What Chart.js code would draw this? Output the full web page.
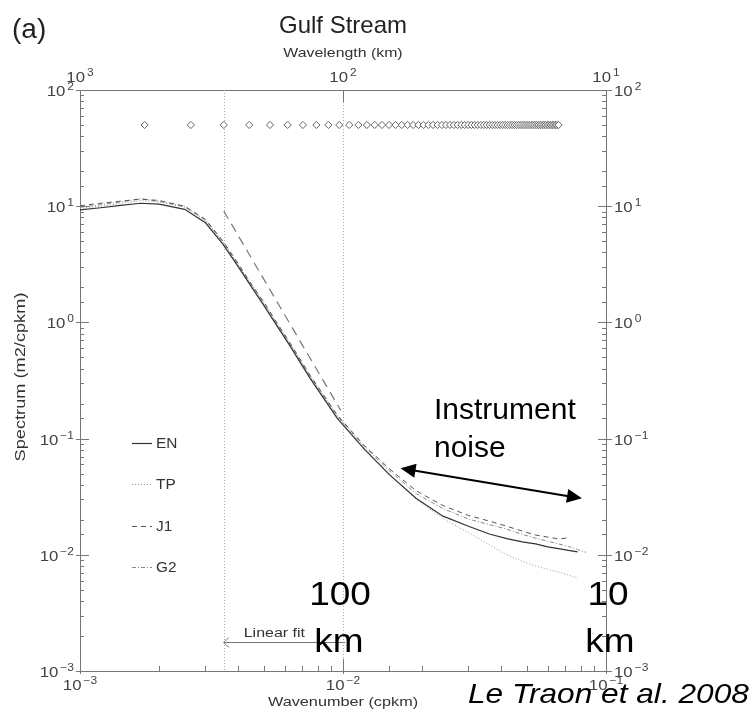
<!DOCTYPE html>
<html>
<head>
<meta charset="utf-8">
<title>Gulf Stream</title>
<script src="https://cdn.jsdelivr.net/npm/chart.js@4.4.1/dist/chart.umd.min.js"></script>
<style>
  html, body { margin: 0; padding: 0; background: #fff; }
  #wrap { width: 756px; height: 726px; }
</style>
</head>
<body>
<div id="wrap"><canvas id="spec" width="756" height="726"></canvas></div>
<script>
// wavenumber grid (cpkm) shared by the four spectra
const waveNum = [0.001, 0.0012, 0.0014, 0.0017, 0.002, 0.0025, 0.003, 0.0035, 0.004, 0.0045,
  0.005, 0.0055, 0.0062, 0.0075, 0.0095, 0.012, 0.015, 0.019, 0.024, 0.03,
  0.036, 0.042, 0.048, 0.054, 0.06, 0.066, 0.072, 0.078, 0.084];

// spectra (m2/cpkm), null where a mission has no estimate
const specEN = [9.3, 9.7, 10.1, 10.6, 10.4, 9.4, 7.2, 4.7, 3.0, 2.0,
  1.4, 1.0, 0.66, 0.33, 0.15, 0.082, 0.049, 0.0305, 0.0215, 0.0176,
  0.0151, 0.0138, 0.0129, 0.0124, 0.0117, 0.0113, 0.0109, 0.0106, null];
const specTP = [9.6, 10.0, 10.5, 11.2, 10.9, 9.8, 7.5, 4.9, 3.1, 2.05,
  1.45, 1.03, 0.68, 0.34, 0.155, 0.083, 0.05, 0.030, 0.0205, 0.0155,
  0.0122, 0.0100, 0.0088, 0.0080, 0.0075, 0.0071, 0.0067, 0.0063, null];
const specJ1 = [10.1, 10.6, 11.0, 11.5, 11.2, 10.0, 7.7, 5.0, 3.2, 2.1,
  1.5, 1.06, 0.70, 0.35, 0.16, 0.088, 0.055, 0.0355, 0.0265, 0.0218,
  0.0195, 0.0176, 0.0160, 0.0148, 0.0142, 0.0137, 0.0140, null, null];
const specG2 = [9.8, 10.3, 10.8, 11.6, 11.0, 9.9, 7.6, 4.9, 3.1, 2.1,
  1.48, 1.05, 0.69, 0.345, 0.158, 0.086, 0.053, 0.0335, 0.025, 0.0203,
  0.0182, 0.0166, 0.0150, 0.0139, 0.0131, 0.0124, 0.0118, 0.0111, 0.0105];

// frequencies of the spectral estimates, plotted as a row of diamonds
const diamondK = [0.00176, 0.00264, 0.00352, 0.0044, 0.00528, 0.00616, 0.00704, 0.00792, 0.0088, 0.00968,
  0.01056, 0.01144, 0.01232, 0.0132, 0.01408, 0.01496, 0.01584, 0.01672, 0.0176, 0.01848,
  0.01936, 0.02024, 0.02112, 0.022, 0.02288, 0.02376, 0.02464, 0.02552, 0.0264, 0.02728,
  0.02816, 0.02904, 0.02992, 0.0308, 0.03168, 0.03256, 0.03344, 0.03432, 0.0352, 0.03608,
  0.03696, 0.03784, 0.03872, 0.0396, 0.04048, 0.04136, 0.04224, 0.04312, 0.044, 0.04488,
  0.04576, 0.04664, 0.04752, 0.0484, 0.04928, 0.05016, 0.05104, 0.05192, 0.0528, 0.05368,
  0.05456, 0.05544, 0.05632, 0.0572, 0.05808, 0.05896, 0.05984, 0.06072, 0.0616, 0.06248,
  0.06336, 0.06424, 0.06512, 0.066];
const diamondLevel = 50;

// linear fit over the mesoscale band
const fitK = [0.00352, 0.0098];
const fitS = [9.1, 0.175];
const fitArrowK = [0.00352, 0.0102];
const fitArrowS = 0.00177;

// dotted verticals bounding the fit band
const bandK = [0.00352, 0.01];

// instrument noise arrow
const noiseK = [0.01656, 0.081];
const noiseS = [0.0555, 0.0306];

const seriesNames = ['EN', 'TP', 'J1', 'G2'];

const FONT = '"Liberation Sans", Arial, Helvetica, sans-serif';

function pts(ks, vs) {
  return ks.map((k, i) => ({ x: k, y: vs[i] }));
}

function txt(ctx, s, x, y, size, o) {
  o = o || {};
  ctx.save();
  ctx.font = (o.style || '') + ' ' + size + 'px ' + FONT;
  ctx.fillStyle = o.color || '#333';
  ctx.textAlign = o.align || 'left';
  ctx.textBaseline = o.base || 'alphabetic';
  ctx.translate(x, y);
  if (o.rot) ctx.rotate(o.rot);
  ctx.scale(o.sx || 1, 1);
  ctx.fillText(s, 0, 0);
  ctx.restore();
}

// "10" with a raised exponent; y is the baseline of the base digits
function pow10(ctx, e, x, y, align) {
  const sx = 1.2;
  const expStr = e < 0 ? '\u2212' + (-e) : String(e);
  ctx.save();
  ctx.font = '14px ' + FONT;
  const wb = ctx.measureText('10').width * sx;
  ctx.font = '10px ' + FONT;
  const we = ctx.measureText(expStr).width * sx + 2;
  ctx.restore();
  const tot = wb + we;
  let x0 = x;
  if (align === 'right') x0 = x - tot;
  else if (align === 'center') x0 = x - tot / 2;
  txt(ctx, '10', x0, y, 14, { sx: sx, color: '#444' });
  txt(ctx, expStr, x0 + wb + 2, y - 6, 10, { sx: sx, color: '#444' });
}

function isPow10(v) {
  const l = Math.log10(v);
  return Math.abs(l - Math.round(l)) < 1e-6;
}

const bgPlugin = {
  id: 'bg',
  beforeDraw(chart) {
    const ctx = chart.ctx;
    ctx.save();
    ctx.fillStyle = '#fff';
    ctx.fillRect(0, 0, chart.width, chart.height);
    ctx.restore();
  }
};

const bandPlugin = {
  id: 'band',
  beforeDatasetsDraw(chart) {
    const { ctx, chartArea: a, scales } = chart;
    ctx.save();
    ctx.strokeStyle = '#aaa';
    ctx.lineWidth = 1;
    ctx.setLineDash([1, 2]);
    bandK.forEach(k => {
      const x = Math.round(scales.x.getPixelForValue(k)) + 0.5;
      ctx.beginPath();
      ctx.moveTo(x, a.top);
      ctx.lineTo(x, a.bottom);
      ctx.stroke();
    });
    ctx.restore();
  }
};

const decorPlugin = {
  id: 'decor',
  afterDraw(chart) {
    const { ctx, chartArea: a, scales } = chart;
    const sx = scales.x, sy = scales.y, sx2 = scales.x2;

    // tick marks, drawn inward from the frame
    ctx.save();
    ctx.strokeStyle = '#777';
    ctx.lineWidth = 1;
    sy.ticks.forEach(t => {
      const y = Math.round(sy.getPixelForValue(t.value)) + 0.5;
      const big = isPow10(t.value);
      ctx.beginPath();
      ctx.moveTo(a.left - (big ? 4 : 0), y);
      ctx.lineTo(a.left + (big ? 9 : 4), y);
      ctx.moveTo(a.right - (big ? 8 : 4), y);
      ctx.lineTo(a.right + (big ? 6 : 0), y);
      ctx.stroke();
    });
    sx.ticks.forEach(t => {
      const x = Math.round(sx.getPixelForValue(t.value)) + 0.5;
      const big = isPow10(t.value);
      ctx.beginPath();
      ctx.moveTo(x, a.bottom + (big ? 3 : 0));
      ctx.lineTo(x, a.bottom - (big ? 12 : 5));
      ctx.stroke();
    });
    sx2.ticks.forEach(t => {
      if (!isPow10(t.value)) return;
      const x = Math.round(sx2.getPixelForValue(t.value)) + 0.5;
      ctx.beginPath();
      ctx.moveTo(x, a.top);
      ctx.lineTo(x, a.top + 12);
      ctx.stroke();
    });
    ctx.restore();

    // tick labels
    [-3, -2, -1, 0, 1, 2].forEach(e => {
      const y = sy.getPixelForValue(Math.pow(10, e));
      pow10(ctx, e, a.left - 6, y + 6, 'right');
      pow10(ctx, e, a.right + 8, y + 6, 'left');
    });
    [-3, -2, -1].forEach(e => {
      const x = sx.getPixelForValue(Math.pow(10, e));
      pow10(ctx, e, x, a.bottom + 19, 'center');
    });
    [1, 2, 3].forEach(e => {
      const x = sx2.getPixelForValue(Math.pow(10, e));
      pow10(ctx, e, x, a.top - 8, 'center');
    });

    // axis titles and headings
    const midX = (a.left + a.right) / 2;
    txt(ctx, 'Wavelength (km)', midX, 57, 13, { align: 'center', sx: 1.22 });
    txt(ctx, 'Wavenumber (cpkm)', midX, 706, 13, { align: 'center', sx: 1.25 });
    txt(ctx, 'Spectrum (m2/cpkm)', 25, 377, 14,
      { align: 'center', rot: -Math.PI / 2, sx: 1.3 });
    txt(ctx, 'Gulf Stream', midX, 33, 24, { align: 'center', color: '#222' });
    txt(ctx, '(a)', 12, 38, 28, { color: '#222' });

    // legend
    const ds = chart.data.datasets;
    const legY = [443, 484, 526, 567];
    seriesNames.forEach((name, i) => {
      const d = ds[i];
      ctx.save();
      ctx.strokeStyle = d.borderColor;
      ctx.lineWidth = d.borderWidth;
      ctx.setLineDash(d.borderDash || []);
      ctx.beginPath();
      ctx.moveTo(132, legY[i] + 0.5);
      ctx.lineTo(152, legY[i] + 0.5);
      ctx.stroke();
      ctx.restore();
      txt(ctx, name, 156, legY[i] + 5, 14, { sx: 1.1, color: '#333' });
    });

    // linear fit marker
    const fy = Math.round(sy.getPixelForValue(fitArrowS)) + 0.5;
    const fx0 = sx.getPixelForValue(fitArrowK[0]);
    const fx1 = sx.getPixelForValue(fitArrowK[1]);
    ctx.save();
    ctx.strokeStyle = '#777';
    ctx.lineWidth = 1;
    ctx.beginPath();
    ctx.moveTo(fx0, fy);
    ctx.lineTo(fx1, fy);
    ctx.moveTo(fx0 + 5, fy - 5);
    ctx.lineTo(fx0, fy);
    ctx.lineTo(fx0 + 5, fy + 5);
    ctx.stroke();
    ctx.restore();
    txt(ctx, 'Linear fit', fx0 + 20, fy - 6, 12, { sx: 1.33, color: '#333' });

    // instrument noise arrow
    const ax0 = sx.getPixelForValue(noiseK[0]), ay0 = sy.getPixelForValue(noiseS[0]);
    const ax1 = sx.getPixelForValue(noiseK[1]), ay1 = sy.getPixelForValue(noiseS[1]);
    const ang = Math.atan2(ay1 - ay0, ax1 - ax0);
    ctx.save();
    ctx.strokeStyle = '#000';
    ctx.fillStyle = '#000';
    ctx.lineWidth = 2;
    ctx.beginPath();
    ctx.moveTo(ax0 + 12 * Math.cos(ang), ay0 + 12 * Math.sin(ang));
    ctx.lineTo(ax1 - 12 * Math.cos(ang), ay1 - 12 * Math.sin(ang));
    ctx.stroke();
    [[ax0, ay0, ang + Math.PI], [ax1, ay1, ang]].forEach(([hx, hy, th]) => {
      ctx.beginPath();
      ctx.moveTo(hx, hy);
      ctx.lineTo(hx - 15 * Math.cos(th) + 7 * Math.sin(th), hy - 15 * Math.sin(th) - 7 * Math.cos(th));
      ctx.lineTo(hx - 15 * Math.cos(th) - 7 * Math.sin(th), hy - 15 * Math.sin(th) + 7 * Math.cos(th));
      ctx.closePath();
      ctx.fill();
    });
    ctx.restore();

    // slide annotations
    txt(ctx, 'Instrument', 434, 419, 30, { color: '#000' });
    txt(ctx, 'noise', 434, 457, 30, { color: '#000' });
    txt(ctx, '100', 340, 605, 33, { align: 'center', color: '#000', sx: 1.12 });
    txt(ctx, 'km', 339, 652, 33, { align: 'center', color: '#000', sx: 1.12 });
    txt(ctx, '10', 608, 605, 33, { align: 'center', color: '#000', sx: 1.12 });
    txt(ctx, 'km', 610, 652, 33, { align: 'center', color: '#000', sx: 1.12 });
    txt(ctx, 'Le Traon et al. 2008', 468, 703, 28, { style: 'italic', color: '#000', sx: 1.13 });
  }
};

function fixSize(key, val) {
  return function (scale) { scale[key] = val; };
}

const logAxis = (pos, min, max, extra) => Object.assign({
  type: 'logarithmic',
  position: pos,
  min: min,
  max: max,
  grid: { display: false },
  border: { display: true, color: '#777', width: 1 },
  ticks: { display: false, autoSkip: false }
}, extra || {});

new Chart(document.getElementById('spec'), {
  type: 'line',
  data: {
    datasets: [
      { label: 'EN', data: pts(waveNum, specEN), borderColor: '#333', borderWidth: 1.2, borderDash: [] },
      { label: 'TP', data: pts(waveNum, specTP), borderColor: '#999', borderWidth: 1, borderDash: [1, 2] },
      { label: 'J1', data: pts(waveNum, specJ1), borderColor: '#555', borderWidth: 1, borderDash: [5, 4] },
      { label: 'G2', data: pts(waveNum, specG2), borderColor: '#888', borderWidth: 1, borderDash: [4, 2, 1, 2] },
      { label: 'fit', data: pts(fitK, fitS), borderColor: '#777', borderWidth: 1.2, borderDash: [9, 6] },
      {
        label: 'freq', data: diamondK.map(k => ({ x: k, y: diamondLevel })),
        showLine: false, pointStyle: 'rectRot', pointRadius: 3.6,
        pointBorderColor: '#666', pointBackgroundColor: '#fff', pointBorderWidth: 1
      }
    ]
  },
  options: {
    responsive: false,
    animation: false,
    devicePixelRatio: 1,
    layout: { padding: 0 },
    elements: { point: { radius: 0 }, line: { tension: 0 } },
    plugins: { legend: { display: false }, tooltip: { enabled: false } },
    scales: {
      x: logAxis('bottom', 0.001, 0.1, { afterFit: fixSize('height', 55) }),
      x2: logAxis('top', 10, 1000, { reverse: true, afterFit: fixSize('height', 90) }),
      y: logAxis('left', 0.001, 100, { afterFit: fixSize('width', 80) }),
      y2: logAxis('right', 0.001, 100, { afterFit: fixSize('width', 150) })
    }
  },
  plugins: [bgPlugin, bandPlugin, decorPlugin]
});
</script>
</body>
</html>
